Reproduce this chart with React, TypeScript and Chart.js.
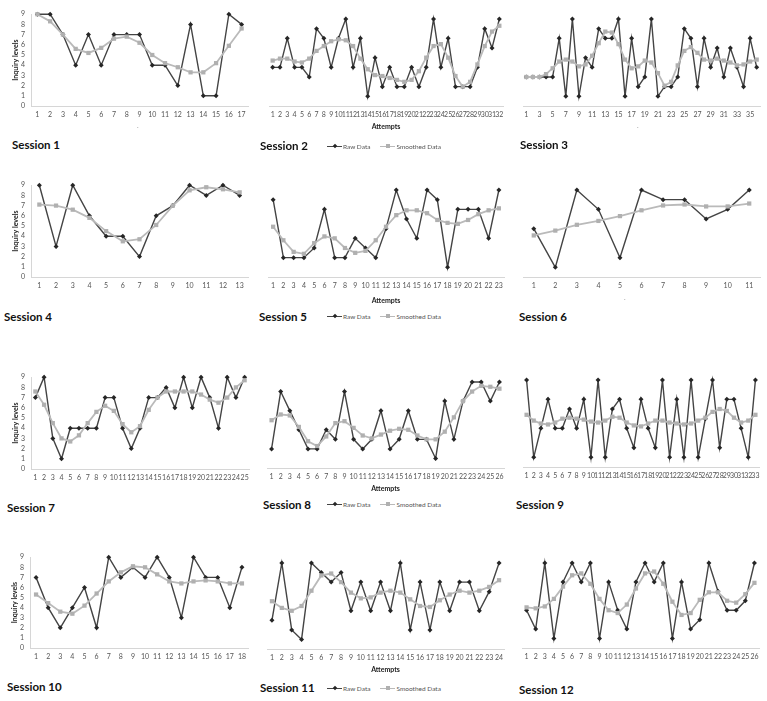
import React, { useEffect, useRef } from 'react';
import { Chart, registerables } from 'chart.js';
Chart.register(...registerables);

// ---- data (inquiry levels per attempt) ----
const s1Raw = [9, 9, 7, 4, 7, 4, 7, 7, 7, 4, 4, 2, 8, 1, 1, 9, 8];
const s1Smooth = [9, 8.3, 7, 5.6, 5.2, 5.7, 6.6, 6.8, 6.2, 5.0, 4.2, 3.8, 3.3, 3.3, 4.2, 5.9, 7.6];

const s2Raw = [4, 4, 7, 4, 4, 3, 8, 7, 4, 7, 9, 4, 7, 1, 5, 2, 4, 2, 2, 4, 2, 4, 9, 4, 7, 2, 2, 2, 4, 8, 6, 9];
const s2Smooth = [4.7, 4.9, 4.9, 4.6, 4.5, 4.9, 5.7, 6.2, 6.7, 6.9, 6.8, 6.2, 4.9, 3.8, 3.2, 3.1, 2.9, 2.7, 2.5, 2.7, 3.6, 5.0, 6.2, 6.4, 5.0, 3.1, 2.0, 2.5, 4.3, 6.2, 7.7, 8.3];

const s3Raw = [3, 3, 3, 3, 3, 7, 1, 9, 1, 5, 4, 8, 7, 7, 9, 1, 7, 2, 3, 9, 1, 2, 2, 3, 8, 7, 2, 7, 4, 6, 3, 6, 4, 2, 7, 4];
const s3Smooth = [3.0, 3.0, 3.0, 3.3, 3.9, 4.6, 4.8, 4.6, 4.1, 4.3, 5.2, 6.5, 7.7, 7.6, 6.4, 4.8, 3.9, 4.1, 4.7, 4.5, 3.4, 2.1, 2.5, 4.2, 5.7, 6.1, 5.5, 4.8, 4.7, 4.9, 4.7, 4.5, 4.2, 4.3, 4.6, 4.8];

const s4Raw = [9, 3, 9, 6, 4, 4, 2, 6, 7, 9, 8, 9, 8];
const s4Smooth = [7.1, 7.0, 6.6, 5.8, 4.5, 3.5, 3.7, 5.1, 7.0, 8.5, 8.8, 8.6, 8.3];

const s5Raw = [8, 2, 2, 2, 3, 7, 2, 2, 4, 3, 2, 5, 9, 6, 4, 9, 8, 1, 7, 7, 7, 4, 9];
const s5Smooth = [5.2, 3.8, 2.6, 2.4, 3.5, 4.2, 4.0, 3.0, 2.5, 2.7, 3.8, 5.2, 6.4, 6.9, 6.9, 6.6, 5.9, 5.6, 5.5, 5.9, 6.5, 6.9, 7.1];

const s6Raw = [5, 1, 9, 7, 2, 9, 8, 8, 6, 7, 9];
const s6Smooth = [4.3, 4.8, 5.4, 5.8, 6.3, 6.9, 7.4, 7.5, 7.3, 7.3, 7.6];

const s7Raw = [7, 9, 3, 1, 4, 4, 4, 4, 7, 7, 4, 2, 4, 7, 7, 8, 6, 9, 6, 9, 7, 4, 9, 7, 9];
const s7Smooth = [7.6, 6.3, 4.5, 3.0, 2.7, 3.3, 4.5, 5.6, 6.2, 5.7, 4.4, 3.6, 4.2, 5.8, 7.0, 7.6, 7.6, 7.6, 7.6, 7.3, 6.8, 6.5, 7.0, 8.0, 8.7];

const s8Raw = [2, 8, 6, 4, 2, 2, 4, 3, 8, 3, 2, 3, 6, 2, 3, 6, 3, 3, 1, 7, 3, 7, 9, 9, 7, 9];
const s8Smooth = [5.0, 5.6, 5.5, 4.3, 2.8, 2.3, 3.3, 4.7, 4.9, 4.2, 3.4, 3.1, 3.5, 3.9, 4.1, 4.0, 3.4, 3.0, 3.0, 3.8, 5.3, 7.0, 8.0, 8.6, 8.5, 8.3];

const s9Raw = [9, 1, 4, 7, 4, 4, 6, 4, 7, 1, 9, 1, 6, 7, 4, 2, 7, 4, 2, 9, 1, 7, 1, 9, 1, 5, 9, 2, 7, 7, 4, 1, 9];
const s9Smooth = [5.4, 4.8, 4.5, 4.4, 4.6, 5.0, 5.1, 5.0, 4.9, 4.7, 4.6, 4.8, 5.2, 5.1, 4.6, 4.3, 4.2, 4.5, 4.8, 4.8, 4.6, 4.5, 4.4, 4.5, 4.8, 5.1, 5.7, 6.0, 5.8, 5.1, 4.6, 4.8, 5.4];

const s10Raw = [7, 4, 2, 4, 6, 2, 9, 7, 8, 7, 9, 7, 3, 9, 7, 7, 4, 8];
const s10Smooth = [5.3, 4.45, 3.6, 3.4, 4.2, 5.4, 6.6, 7.5, 8.1, 8.0, 7.3, 6.6, 6.4, 6.6, 6.7, 6.6, 6.4, 6.4];

const s11Raw = [3, 9, 2, 1, 9, 8, 7, 8, 4, 7, 4, 7, 4, 9, 2, 7, 2, 7, 4, 7, 7, 4, 6, 9];
const s11Smooth = [5.0, 4.3, 4.0, 4.5, 6.1, 7.7, 7.9, 7.0, 5.9, 5.3, 5.4, 5.9, 6.1, 5.9, 5.2, 4.5, 4.4, 5.1, 5.7, 6.1, 5.9, 6.1, 6.5, 7.2];

const s12Raw = [4, 2, 9, 1, 7, 9, 7, 9, 1, 7, 4, 2, 7, 9, 7, 9, 1, 7, 2, 3, 9, 6, 4, 4, 5, 9];
const s12Smooth = [4.3, 4.2, 4.4, 5.2, 6.5, 7.7, 7.9, 6.8, 5.2, 4.0, 3.7, 4.6, 6.3, 7.9, 8.1, 6.8, 4.9, 3.5, 3.7, 5.1, 5.9, 5.9, 5.0, 4.8, 5.7, 6.9];

const sessionTitles = ['Session 1', 'Session 2', 'Session 3', 'Session 4', 'Session 5', 'Session 6', 'Session 7', 'Session 8', 'Session 9', 'Session 10', 'Session 11', 'Session 12'];
const yTicks = [0, 1, 2, 3, 4, 5, 6, 7, 8, 9];
const yTitle = 'Inquiry levels';
const xTitle = 'Attempts';
const legendRaw = 'Raw Data';
const legendSmooth = 'Smoothed Data';

const RAW_LINE = '#444444';
const RAW_PT = '#262626';
const SM_LINE = '#bababa';
const SM_PT = '#b0b0b0';
const AXIS = '#d6d6d6';
const FONT = 'Lato, "Open Sans", sans-serif';

type PanelDef = {
  raw: number[];
  smooth: number[];
  l: number; r: number; t: number; b: number;
  yAxis: boolean;
  xTitleY?: number;
  everyOther?: boolean;
  title: string; titleX: number; titleY: number;
  legendY?: number;
  dot?: [number, number];
};

const panels: PanelDef[] = [
  { raw: s1Raw, smooth: s1Smooth, l: 31, r: 248, t: 10, b: 106, yAxis: true, title: sessionTitles[0], titleX: 12, titleY: 145, dot: [139, 127] },
  { raw: s2Raw, smooth: s2Smooth, l: 265, r: 503, t: 19, b: 106, yAxis: false, xTitleY: 127, title: sessionTitles[1], titleX: 260, titleY: 146, legendY: 146 },
  { raw: s3Raw, smooth: s3Smooth, l: 519, r: 760, t: 19, b: 106, yAxis: false, everyOther: true, title: sessionTitles[2], titleX: 520, titleY: 145, dot: [639, 127] },
  { raw: s4Raw, smooth: s4Smooth, l: 31, r: 248, t: 181, b: 277, yAxis: true, title: sessionTitles[3], titleX: 4, titleY: 317 },
  { raw: s5Raw, smooth: s5Smooth, l: 264, r: 504, t: 190, b: 277, yAxis: false, xTitleY: 301, title: sessionTitles[4], titleX: 259, titleY: 317, legendY: 316 },
  { raw: s6Raw, smooth: s6Smooth, l: 519, r: 760, t: 190, b: 277, yAxis: false, title: sessionTitles[5], titleX: 519, titleY: 317, dot: [626, 299] },
  { raw: s7Raw, smooth: s7Smooth, l: 31, r: 249, t: 373, b: 469, yAxis: true, title: sessionTitles[6], titleX: 7, titleY: 508 },
  { raw: s8Raw, smooth: s8Smooth, l: 263, r: 504, t: 382, b: 468, yAxis: false, xTitleY: 489, title: sessionTitles[7], titleX: 263, titleY: 505, legendY: 504 },
  { raw: s9Raw, smooth: s9Smooth, l: 519, r: 759, t: 380, b: 467, yAxis: false, title: sessionTitles[8], titleX: 516, titleY: 505 },
  { raw: s10Raw, smooth: s10Smooth, l: 30, r: 248, t: 553, b: 648, yAxis: true, title: sessionTitles[9], titleX: 7, titleY: 687 },
  { raw: s11Raw, smooth: s11Smooth, l: 263, r: 504, t: 563, b: 649, yAxis: false, xTitleY: 670, title: sessionTitles[10], titleX: 260, titleY: 688, legendY: 688 },
  { raw: s12Raw, smooth: s12Smooth, l: 518, r: 759, t: 563, b: 648, yAxis: false, title: sessionTitles[11], titleX: 519, titleY: 690 },
];

function Panel({ p }: { p: PanelDef }) {
  const ref = useRef<HTMLCanvasElement | null>(null);
  const yW = p.yAxis ? 30 : 0;
  const padT = 6;
  const padR = 6;
  const xH = p.xTitleY ? p.xTitleY - p.b + 4 : 16;
  const left = p.l - yW;
  const top = p.t - padT;
  const width = p.r + padR - left;
  const height = p.b + xH - top;

  useEffect(() => {
    if (!ref.current) return;
    const labels = p.raw.map((_, i) => String(i + 1));
    const chart = new Chart(ref.current, {
      type: 'line',
      data: {
        labels,
        datasets: [
          {
            label: legendSmooth,
            data: p.smooth,
            borderColor: SM_LINE,
            backgroundColor: SM_PT,
            borderWidth: 1.8,
            pointStyle: 'rect',
            pointRadius: 3,
            pointBorderWidth: 0,
            pointBackgroundColor: SM_PT,
            tension: 0,
            clip: false,
            order: 0,
          },
          {
            label: legendRaw,
            data: p.raw,
            borderColor: RAW_LINE,
            backgroundColor: RAW_PT,
            borderWidth: 1.4,
            pointStyle: 'rectRot',
            pointRadius: 2.5,
            pointBorderWidth: 0,
            pointBackgroundColor: RAW_PT,
            tension: 0,
            clip: false,
            order: 1,
          },
        ],
      },
      options: {
        responsive: false,
        maintainAspectRatio: false,
        animation: false,
        events: [],
        layout: { padding: { top: padT, right: padR, left: 0, bottom: 0 } },
        plugins: { legend: { display: false }, tooltip: { enabled: false } },
        scales: {
          x: {
            type: 'category',
            offset: true,
            grid: { display: false, drawTicks: false },
            border: { display: true, color: AXIS, width: 1 },
            ticks: {
              autoSkip: false,
              maxRotation: 0,
              minRotation: 0,
              padding: 5,
              color: '#555',
              font: { family: FONT, size: 7 },
              callback: (_v: any, i: number) => (p.everyOther && i % 2 === 1 ? '' : labels[i]),
            },
            title: {
              display: !!p.xTitleY,
              text: xTitle,
              color: '#222',
              font: { family: FONT, size: 7, weight: 'bold' },
              padding: { top: 0, bottom: 0 },
            },
            afterFit: (s: any) => { s.height = xH; },
          },
          y: {
            display: p.yAxis,
            min: 0,
            max: 9,
            afterBuildTicks: (s: any) => { s.ticks = yTicks.map((v) => ({ value: v })); },
            grid: { display: false, drawTicks: false },
            border: { display: true, color: AXIS, width: 1 },
            ticks: { autoSkip: false, stepSize: 1, padding: 6, color: '#555', font: { family: FONT, size: 7 } },
            title: {
              display: true,
              text: yTitle,
              color: '#222',
              font: { family: FONT, size: 7, weight: 'bold' },
              padding: { top: 11, bottom: 0 },
            },
            afterFit: (s: any) => { s.width = yW; },
          },
        },
      },
    } as any);
    return () => chart.destroy();
  }, []);

  return (
    <>
      <canvas
        ref={ref}
        width={width}
        height={height}
        style={{ position: 'absolute', left, top, width, height }}
      />
      <div
        style={{
          position: 'absolute',
          left: p.titleX,
          top: p.titleY - 8,
          fontFamily: FONT,
          fontWeight: 700,
          fontSize: 11.5,
          lineHeight: '16px',
          color: '#111',
          whiteSpace: 'nowrap',
        }}
      >
        {p.title}
      </div>
      {p.legendY !== undefined && <Legend y={p.legendY} />}
      {p.dot && (
        <div
          style={{
            position: 'absolute',
            left: p.dot[0] - 2,
            top: p.dot[1] - 6,
            fontFamily: FONT,
            fontSize: 7,
            lineHeight: '8px',
            color: '#999',
          }}
        >
          .
        </div>
      )}
    </>
  );
}

function LegendLine({ color, marker, square }: { color: string; marker: string; square: boolean }) {
  return (
    <span style={{ position: 'relative', display: 'inline-block', width: 15, height: 8, verticalAlign: 'middle' }}>
      <span style={{ position: 'absolute', left: 0, top: 3.5, width: 15, height: 1.2, background: color }} />
      <span
        style={{
          position: 'absolute',
          left: 5.5,
          top: 2,
          width: 4,
          height: 4,
          background: marker,
          transform: square ? 'none' : 'rotate(45deg) scale(0.8)',
        }}
      />
    </span>
  );
}

function Legend({ y }: { y: number }) {
  return (
    <div
      style={{
        position: 'absolute',
        left: 327,
        top: y - 5,
        height: 10,
        display: 'flex',
        alignItems: 'center',
        fontFamily: FONT,
        fontSize: 6.5,
        color: '#555',
        whiteSpace: 'nowrap',
      }}
    >
      <LegendLine color={RAW_LINE} marker={RAW_PT} square={false} />
      <span style={{ marginLeft: 1 }}>{legendRaw}</span>
      <span style={{ width: 10, display: 'inline-block' }} />
      <LegendLine color={SM_LINE} marker={SM_PT} square={true} />
      <span style={{ marginLeft: 1 }}>{legendSmooth}</span>
    </div>
  );
}

export default function App() {
  return (
    <div style={{ position: 'absolute', left: 0, top: 0, width: 767, height: 701, background: '#fff', overflow: 'hidden' }}>
      {panels.map((p, i) => (
        <Panel key={i} p={p} />
      ))}
    </div>
  );
}
